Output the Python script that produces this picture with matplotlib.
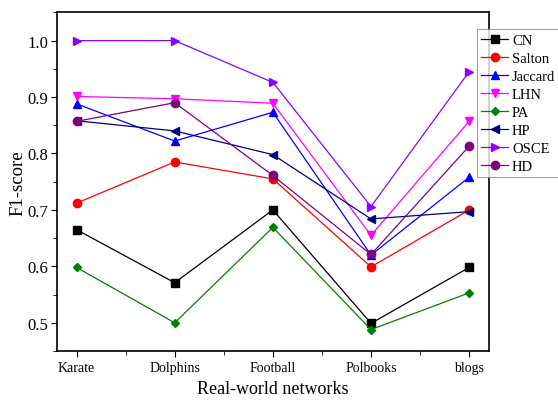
import matplotlib.pyplot as plt
from matplotlib.ticker import MultipleLocator

plt.rcParams['font.family'] = ['Liberation Serif', 'DejaVu Serif']

networks = ['Karate', 'Dolphins', 'Football', 'Polbooks', 'blogs']

cn = [0.665, 0.571, 0.700, 0.499, 0.598]
salton = [0.712, 0.785, 0.755, 0.599, 0.700]
jaccard = [0.888, 0.822, 0.873, 0.620, 0.758]
lhn = [0.901, 0.897, 0.889, 0.655, 0.857]
pa = [0.598, 0.500, 0.669, 0.488, 0.553]
hp = [0.858, 0.840, 0.798, 0.684, 0.697]
osce = [1.000, 1.000, 0.926, 0.706, 0.945]
hd = [0.857, 0.890, 0.761, 0.621, 0.813]

series = [
    ('CN', cn, 'black', 's'),
    ('Salton', salton, 'red', 'o'),
    ('Jaccard', jaccard, 'blue', '^'),
    ('LHN', lhn, '#ff00ff', 'v'),
    ('PA', pa, 'green', 'D'),
    ('HP', hp, '#000080', '<'),
    ('OSCE', osce, '#8b00ff', '>'),
    ('HD', hd, '#800080', 'o'),
]

fig = plt.figure(figsize=(5.58, 4.06), dpi=100)
ax = fig.add_axes([0.102, 0.133, 0.774, 0.834])

x = list(range(len(networks)))
for name, vals, col, mk in series:
    ms = 4.5 if mk == 'D' else 6
    ax.plot(x, vals, color=col, marker=mk, markersize=ms, linewidth=0.9,
            label=name)

ax.set_xlim(-0.2, 4.2)
ax.set_ylim(0.45, 1.05)
ax.set_xticks(x)
ax.set_xticklabels(networks, fontsize=10)
ax.xaxis.set_minor_locator(MultipleLocator(0.5))
ax.yaxis.set_major_locator(MultipleLocator(0.1))
ax.yaxis.set_minor_locator(MultipleLocator(0.05))
ax.tick_params(axis='y', labelsize=12, pad=2)
ax.tick_params(which='both', direction='out', top=False, right=False)
ax.tick_params(which='major', length=4)
ax.tick_params(which='minor', length=3)
for s in ax.spines.values():
    s.set_linewidth(1.2)

ax.set_xlabel('Real-world networks', fontsize=13)
ax.set_ylabel('F1-score', fontsize=13.5, labelpad=1)

leg = fig.legend(loc='upper left', bbox_to_anchor=(0.855, 0.926),
                 fontsize=10.5, frameon=True, fancybox=False,
                 borderpad=0.3, labelspacing=0.33, handlelength=1.8,
                 handletextpad=0.3, borderaxespad=0)
leg.get_frame().set_edgecolor('#888888')
leg.get_frame().set_linewidth(0.8)

fig.savefig('out.png', dpi=100)
